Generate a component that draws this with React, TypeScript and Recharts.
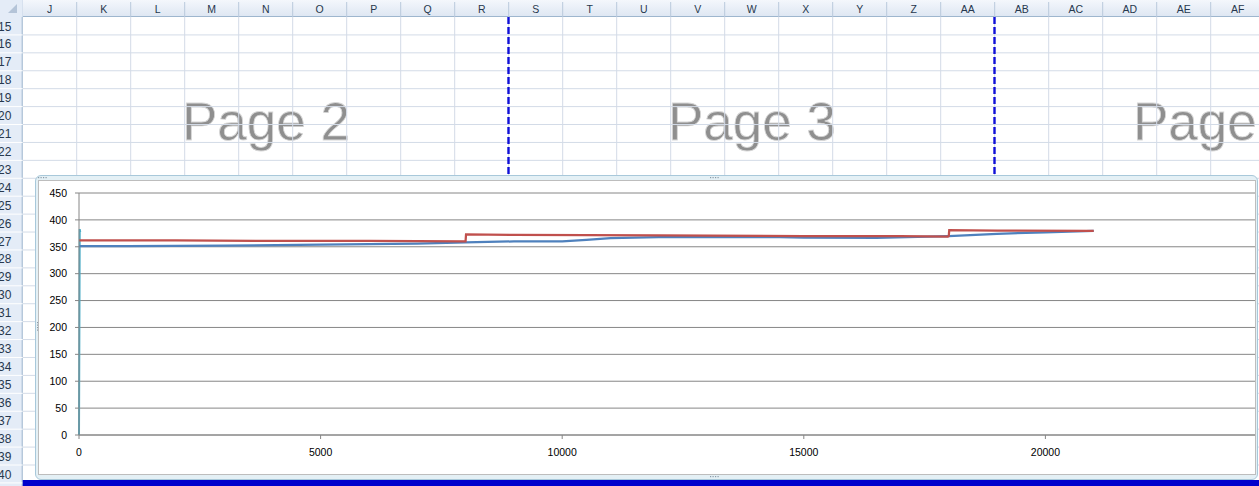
import { LineChart, Line, XAxis, YAxis, CartesianGrid } from "recharts";

const columnLabels = [
  "J", "K", "L", "M", "N", "O", "P", "Q", "R", "S", "T", "U",
  "V", "W", "X", "Y", "Z", "AA", "AB", "AC", "AD", "AE", "AF",
];
const rowLabels = [
  15, 16, 17, 18, 19, 20, 21, 22, 23, 24, 25, 26, 27,
  28, 29, 30, 31, 32, 33, 34, 35, 36, 37, 38, 39, 40,
];
const pageLabels = ["Page 2", "Page 3", "Page 4"];

// series 1 (blue)
const blueX = [0, 1000, 3000, 5000, 7000, 8000, 9000, 10000, 10500, 11000, 12000, 14500, 15000, 16500, 18000, 19000, 20000, 21000];
const blueY = [351, 351, 352, 354, 356, 358, 360, 360, 363, 366, 368, 368, 367, 366.5, 370, 374, 377, 379.5];

// series 2 (red)
const redX = [0, 2000, 4000, 6000, 7990, 8000, 8010, 9000, 12000, 15000, 17000, 17980, 18000, 18010, 19000, 21000];
const redY = [362, 362, 361, 361, 360, 360, 373, 372, 371, 370, 370, 369, 370, 381, 380, 379.5];

// series 3 (teal, hugging the axis)
const tealX = [0, 15, 25];
const tealY = [0, 383, 377];

const xTicks = [0, 5000, 10000, 15000, 20000, 25000];
const yTicks = [0, 50, 100, 150, 200, 250, 300, 350, 400, 450];

const toPoints = (xs: number[], ys: number[]) => xs.map((x, i) => ({ x, y: ys[i] }));

const blueData = toPoints(blueX, blueY);
const redData = toPoints(redX, redY);
const tealData = toPoints(tealX, tealY);

const ROW_H = 17.92;
const COL_W = 54;
const COL_0 = 22.7;
const HEAD_H = 17;

function Sheet() {
  const vLines = columnLabels.map((_, i) => COL_0 + (i + 1) * COL_W);
  const hLines = rowLabels.map((_, i) => HEAD_H + (i + 1) * ROW_H);
  return (
    <svg width={1259} height={486} style={{ position: "absolute", left: 0, top: 0 }}>
      <defs>
        <linearGradient id="hdr" x1="0" y1="0" x2="0" y2="1">
          <stop offset="0" stopColor="#f4f7fc" />
          <stop offset="1" stopColor="#dde6f2" />
        </linearGradient>
      </defs>
      <rect x={0} y={0} width={1259} height={486} fill="#ffffff" />

      {/* page watermarks */}
      {pageLabels.map((p, i) => (
        <text
          key={p}
          x={[182, 668, 1133][i]}
          y={140}
          fontFamily="Liberation Sans, Arial, sans-serif"
          fontSize={53}
          fill="#8f8f8f"
          stroke="#d8d8d8"
          strokeWidth={0.8}
        >
          {p}
        </text>
      ))}

      {/* cell grid */}
      {vLines.map((x) => (
        <line key={"v" + x} x1={x} x2={x} y1={HEAD_H} y2={486} stroke="#d3dbe7" strokeWidth={1} />
      ))}
      {hLines.map((y) => (
        <line key={"h" + y} x1={COL_0} x2={1259} y1={y} y2={y} stroke="#d3dbe7" strokeWidth={1} />
      ))}

      {/* column header */}
      <rect x={0} y={0} width={1259} height={HEAD_H} fill="url(#hdr)" />
      <line x1={0} x2={1259} y1={HEAD_H - 0.5} y2={HEAD_H - 0.5} stroke="#9eb6ce" />
      {columnLabels.map((c, i) => {
        const x0 = COL_0 + i * COL_W;
        return (
          <g key={c}>
            <line x1={x0 + COL_W} x2={x0 + COL_W} y1={2} y2={HEAD_H} stroke="#b9c9dc" />
            <text
              x={x0 + COL_W / 2}
              y={13}
              textAnchor="middle"
              fontFamily="Liberation Sans, Arial, sans-serif"
              fontSize={10.5}
              fill="#27384e"
            >
              {c}
            </text>
          </g>
        );
      })}

      {/* row header */}
      <rect x={0} y={HEAD_H} width={COL_0} height={486 - HEAD_H} fill="#e4ecf7" />
      <line x1={COL_0 - 0.5} x2={COL_0 - 0.5} y1={0} y2={486} stroke="#9eb6ce" />
      {rowLabels.map((r, i) => {
        const y0 = HEAD_H + i * ROW_H;
        return (
          <g key={r}>
            <line x1={0} x2={COL_0} y1={y0 + ROW_H} y2={y0 + ROW_H} stroke="#ffffff" />
            <text
              x={-2}
              y={y0 + 13.5}
              fontFamily="Liberation Sans, Arial, sans-serif"
              fontSize={12}
              fill="#27384e"
            >
              {r}
            </text>
          </g>
        );
      })}

      {/* corner */}
      <rect x={0} y={0} width={COL_0} height={HEAD_H} fill="#e4ecf7" />
      <polygon points="17,4 17,13 8,13" fill="#b4c4d8" />

      {/* page breaks */}
      <line x1={508.5} x2={508.5} y1={HEAD_H} y2={480} stroke="#1010d8" strokeWidth={2.4} strokeDasharray="7 3" />
      <line x1={994.5} x2={994.5} y1={HEAD_H} y2={480} stroke="#1010d8" strokeWidth={2.4} strokeDasharray="7 3" />
      <rect x={COL_0} y={480} width={1259} height={6} fill="#0000cc" />
    </svg>
  );
}

function Handles({ x, y, vertical }: { x: number; y: number; vertical?: boolean }) {
  const dots = [0, 1, 2, 3];
  return (
    <svg width={12} height={12} style={{ position: "absolute", left: x, top: y, overflow: "visible" }}>
      {dots.map((d) => (
        <rect
          key={d}
          x={vertical ? 0 : d * 2.5}
          y={vertical ? d * 2.5 : 0}
          width={1.2}
          height={1.2}
          fill="#8a9aa8"
        />
      ))}
    </svg>
  );
}

export default function App() {
  return (
    <div
      style={{
        position: "fixed",
        left: 0,
        top: 0,
        width: 1259,
        height: 486,
        overflow: "hidden",
        background: "#fff",
      }}
    >
      <Sheet />

      {/* chart frame */}
      <div
        style={{
          position: "absolute",
          left: 35,
          top: 175,
          width: 1223,
          height: 305,
          boxSizing: "border-box",
          background: "#e4f0f5",
          border: "1px solid #a8c8da",
          borderRadius: 6,
        }}
      />
      <Handles x={710} y={177} />
      <Handles x={710} y={476} />
      <Handles x={37} y={322} vertical />
      <Handles x={38} y={177} />
      <Handles x={38} y={473} />

      <div
        style={{
          position: "absolute",
          left: 38,
          top: 180,
          width: 1218,
          height: 295,
          boxSizing: "border-box",
          background: "#ffffff",
          border: "1px solid #bdbdbd",
          overflow: "hidden",
        }}
      >
        <LineChart
          width={1260}
          height={292}
          margin={{ top: 12, right: 12, bottom: 0, left: 0 }}
          style={{ fontFamily: "Liberation Sans, Arial, sans-serif" }}
        >
          <CartesianGrid vertical={false} stroke="#868686" strokeWidth={1} />
          <XAxis
            type="number"
            dataKey="x"
            domain={[0, 25000]}
            ticks={xTicks}
            height={38}
            tickSize={4}
            tickMargin={10}
            axisLine={{ stroke: "#868686" }}
            tickLine={{ stroke: "#868686" }}
            tick={{ fill: "#000", fontSize: 10.5 }}
            interval={0}
          />
          <YAxis
            type="number"
            dataKey="y"
            domain={[0, 450]}
            ticks={yTicks}
            width={40}
            tickSize={4}
            tickMargin={8}
            axisLine={{ stroke: "#868686" }}
            tickLine={{ stroke: "#868686" }}
            tick={{ fill: "#000", fontSize: 10.5 }}
            interval={0}
          />
          <Line
            data={tealData}
            dataKey="y"
            type="linear"
            stroke="#4bacc6"
            strokeWidth={2}
            dot={false}
            isAnimationActive={false}
          />
          <Line
            data={blueData}
            dataKey="y"
            type="linear"
            stroke="#4f81bd"
            strokeWidth={2.25}
            dot={false}
            isAnimationActive={false}
          />
          <Line
            data={redData}
            dataKey="y"
            type="linear"
            stroke="#c0504d"
            strokeWidth={2.25}
            dot={false}
            isAnimationActive={false}
          />
        </LineChart>
      </div>
    </div>
  );
}
